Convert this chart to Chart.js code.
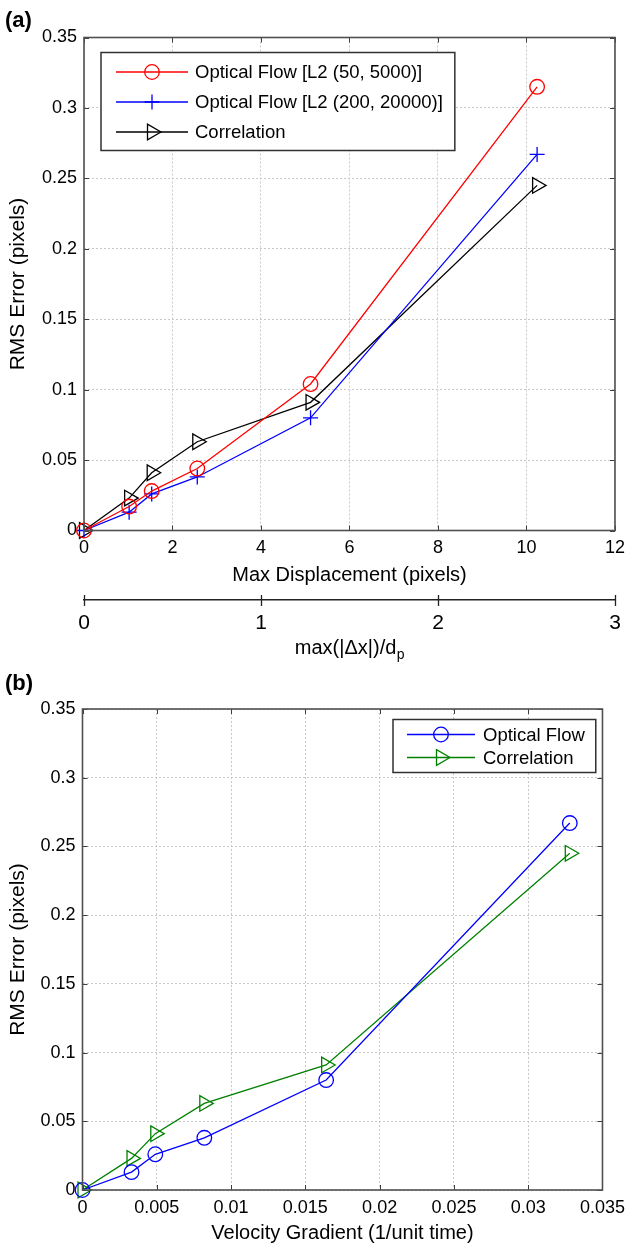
<!DOCTYPE html>
<html>
<head>
<meta charset="utf-8">
<title>RMS error vs displacement and velocity gradient</title>
<script src="https://cdn.jsdelivr.net/npm/chart.js@4.4.1/dist/chart.umd.min.js"></script>
<style>
  html, body { margin: 0; padding: 0; background: #fff; }
  body { width: 632px; height: 1251px; position: relative; overflow: hidden; }
  canvas { position: absolute; left: 0; }
  #chartA { top: 0; }
  #chartB { top: 665px; }
</style>
</head>
<body>
<canvas id="chartA" width="632" height="670"></canvas>
<canvas id="chartB" width="632" height="586"></canvas>
<script>
// ---- data ----
const displacement = [0, 1.02, 1.53, 2.56, 5.12, 10.24];          // max displacement (pixels)
const velocityGradient = [0, 0.0033, 0.0049, 0.0082, 0.0164, 0.0328]; // 1/unit time
const rmsFlowSmall = [0, 0.017, 0.028, 0.044, 0.104, 0.315];   // Optical Flow L2 (50, 5000)
const rmsFlowLarge = [0, 0.013, 0.026, 0.038, 0.080, 0.267];   // Optical Flow L2 (200, 20000)
const rmsCorrelation = [0, 0.023, 0.041, 0.063, 0.091, 0.245];

const rmsTicks = [0, 0.05, 0.1, 0.15, 0.2, 0.25, 0.3, 0.35];
const displacementTicks = [0, 2, 4, 6, 8, 10, 12];
const particleTicks = [0, 1, 2, 3];          // max(|dx|)/dp
const gradientTicks = [0, 0.005, 0.01, 0.015, 0.02, 0.025, 0.03, 0.035];

const FONT = '"Liberation Sans", Arial, Helvetica, sans-serif';
Chart.defaults.font.family = FONT;
Chart.defaults.color = '#000';

const fmt = v => String(+Number(v).toFixed(4));
const pts = (xs, ys) => xs.map((x, i) => ({ x: x, y: ys[i] }));

function series(label, color, style, xs, ys, radius, rotation) {
    return {
        label: label,
        data: pts(xs, ys),
        borderColor: color,
        borderWidth: 1.3,
        pointStyle: style,
        pointRadius: radius,
        pointHoverRadius: radius,
        pointRotation: rotation || 0,
        pointBorderColor: color,
        pointBackgroundColor: 'rgba(0,0,0,0)',
        pointBorderWidth: 1.3,
        tension: 0,
        clip: false
    };
}

// matlab-like box: frame + inward ticks on all four sides
const boxAxes = {
    id: 'boxAxes',
    afterDatasetsDraw(chart) {
        const { ctx, chartArea: a, scales } = chart;
        ctx.save();
        ctx.strokeStyle = '#3c3c3c';
        ctx.lineWidth = 1;
        ctx.beginPath();
        scales.x.ticks.forEach(t => {
            const px = Math.round(scales.x.getPixelForValue(t.value)) + 0.5;
            ctx.moveTo(px, a.bottom); ctx.lineTo(px, a.bottom - 5);
            ctx.moveTo(px, a.top); ctx.lineTo(px, a.top + 5);
        });
        scales.y.ticks.forEach(t => {
            const py = Math.round(scales.y.getPixelForValue(t.value)) + 0.5;
            ctx.moveTo(a.left, py); ctx.lineTo(a.left + 5, py);
            ctx.moveTo(a.right, py); ctx.lineTo(a.right - 5, py);
        });
        ctx.stroke();
        ctx.lineWidth = 1.6;
        ctx.strokeStyle = '#505050';
        ctx.strokeRect(a.left, a.top, a.right - a.left, a.bottom - a.top);
        ctx.restore();
    }
};

// legend box with line + marker samples
const boxLegend = {
    id: 'boxLegend',
    afterDraw(chart, args, o) {
        const ctx = chart.ctx;
        const sets = chart.data.datasets;
        ctx.save();
        ctx.font = o.fontSize + 'px ' + FONT;
        let maxW = 0;
        sets.forEach(ds => { maxW = Math.max(maxW, ctx.measureText(ds.label).width); });
        const w = o.textX + maxW + o.padRight;
        ctx.fillStyle = '#fff';
        ctx.fillRect(o.left, o.top, w, o.height);
        ctx.strokeStyle = '#303030';
        ctx.lineWidth = 1.5;
        ctx.strokeRect(o.left, o.top, w, o.height);
        sets.forEach((ds, i) => {
            const y = o.top + o.firstRow + i * o.rowGap;
            ctx.strokeStyle = ds.borderColor;
            ctx.lineWidth = ds.borderWidth;
            ctx.beginPath();
            ctx.moveTo(o.left + o.lineStart, y);
            ctx.lineTo(o.left + o.lineEnd, y);
            ctx.stroke();
            ctx.fillStyle = 'rgba(0,0,0,0)';
            Chart.helpers.drawPoint(ctx, {
                pointStyle: ds.pointStyle,
                rotation: ds.pointRotation,
                radius: ds.pointRadius,
                borderWidth: ds.pointBorderWidth
            }, o.left + (o.lineStart + o.lineEnd) / 2, y);
            ctx.fillStyle = '#000';
            ctx.textBaseline = 'middle';
            ctx.textAlign = 'left';
            ctx.fillText(ds.label, o.left + o.textX, y + 1);
        });
        ctx.restore();
    }
};

// panel letter and the second displacement axis decorations
const panelText = {
    id: 'panelText',
    afterDraw(chart, args, o) {
        const ctx = chart.ctx;
        ctx.save();
        ctx.fillStyle = '#000';
        ctx.font = 'bold 22px ' + FONT;
        ctx.textBaseline = 'middle';
        ctx.textAlign = 'left';
        ctx.fillText(o.letter, 5, o.letterY);

        const xd = chart.scales.xd;
        if (xd) {
            ctx.strokeStyle = '#222';
            ctx.lineWidth = 1.3;
            ctx.beginPath();
            xd.ticks.forEach(t => {
                const px = Math.round(xd.getPixelForValue(t.value)) + 0.5;
                ctx.moveTo(px, xd.top - 5);
                ctx.lineTo(px, xd.top + 6);
            });
            ctx.stroke();
            // max(|Δx|)/d with subscript p
            const main = 'max(|\u0394x|)/d';
            ctx.font = '20px ' + FONT;
            const mw = ctx.measureText(main).width;
            ctx.font = '14px ' + FONT;
            const sw = ctx.measureText('p').width;
            const cx = (xd.left + xd.right) / 2;
            const x0 = cx - (mw + sw) / 2;
            ctx.font = '20px ' + FONT;
            ctx.fillText(main, x0, o.subTitleY);
            ctx.font = '14px ' + FONT;
            ctx.fillText('p', x0 + mw + 0.5, o.subTitleY + 7);
        }
        ctx.restore();
    }
};

const gridOpts = { color: '#c9c9c9', lineWidth: 1, drawTicks: false };
const gridBorder = { display: false, dash: [2, 2] };

function rmsAxis(width) {
    return {
        type: 'linear',
        min: rmsTicks[0],
        max: rmsTicks[rmsTicks.length - 1],
        afterBuildTicks: s => { s.ticks = rmsTicks.map(v => ({ value: v })); },
        ticks: { font: { size: 18 }, padding: 7, callback: fmt },
        grid: gridOpts,
        border: gridBorder,
        title: { display: true, text: 'RMS Error (pixels)', font: { size: 21 }, padding: { top: 6, bottom: 0 } },
        afterFit: s => { s.width = width; }
    };
}

// ---- (a) error vs displacement ----
new Chart(document.getElementById('chartA'), {
    type: 'line',
    data: {
        datasets: [
            series('Optical Flow [L2 (50, 5000)]', '#ff0000', 'circle', displacement, rmsFlowSmall, 7.3),
            series('Optical Flow [L2 (200, 20000)]', '#0000ff', 'cross', displacement, rmsFlowLarge, 7.5),
            series('Correlation', '#000000', 'triangle', displacement, rmsCorrelation, 9, 90)
        ]
    },
    options: {
        responsive: false,
        animation: false,
        devicePixelRatio: 1,
        layout: { padding: { left: 0, right: 12, top: 37.5, bottom: 10 } },
        scales: {
            x: {
                type: 'linear',
                weight: 0,
                min: displacementTicks[0],
                max: displacementTicks[displacementTicks.length - 1],
                afterBuildTicks: s => { s.ticks = displacementTicks.map(v => ({ value: v })); },
                ticks: { font: { size: 18 }, padding: 7, maxRotation: 0, callback: fmt },
                grid: gridOpts,
                border: gridBorder,
                title: { display: true, text: 'Max Displacement (pixels)', font: { size: 20 }, padding: { top: 0, bottom: 13 } },
                afterFit: s => { s.height = 69.5; }
            },
            xd: {
                type: 'linear',
                position: 'bottom',
                weight: 1,
                min: particleTicks[0],
                max: particleTicks[particleTicks.length - 1],
                afterBuildTicks: s => { s.ticks = particleTicks.map(v => ({ value: v })); },
                ticks: { font: { size: 21 }, padding: 11, maxRotation: 0, callback: fmt },
                grid: { display: true, drawOnChartArea: false, drawTicks: false },
                border: { display: true, color: '#222', width: 1.5 },
                afterFit: s => { s.height = 60; }
            },
            y: rmsAxis(84)
        },
        plugins: {
            legend: { display: false },
            tooltip: { enabled: false },
            boxLegend: { left: 101, top: 52.5, height: 98, firstRow: 19.5, rowGap: 30,
                         lineStart: 15, lineEnd: 87, textX: 94, padRight: 12, fontSize: 18.5 },
            panelText: { letter: '(a)', letterY: 21, subTitleY: 648 }
        }
    },
    plugins: [boxAxes, boxLegend, panelText]
});

// ---- (b) error vs velocity gradient ----
new Chart(document.getElementById('chartB'), {
    type: 'line',
    data: {
        datasets: [
            series('Optical Flow', '#0000ff', 'circle', velocityGradient, rmsFlowLarge, 7.3),
            series('Correlation', '#008000', 'triangle', velocityGradient, rmsCorrelation, 9, 90)
        ]
    },
    options: {
        responsive: false,
        animation: false,
        devicePixelRatio: 1,
        layout: { padding: { left: 0, right: 24.5, top: 44, bottom: 0 } },
        scales: {
            x: {
                type: 'linear',
                min: gradientTicks[0],
                max: gradientTicks[gradientTicks.length - 1],
                afterBuildTicks: s => { s.ticks = gradientTicks.map(v => ({ value: v })); },
                ticks: { font: { size: 18 }, padding: 7, maxRotation: 0, callback: fmt },
                grid: gridOpts,
                border: gridBorder,
                title: { display: true, text: 'Velocity Gradient (1/unit time)', font: { size: 20 }, padding: { top: 0, bottom: 6 } },
                afterFit: s => { s.height = 61; }
            },
            y: rmsAxis(82.5)
        },
        plugins: {
            legend: { display: false },
            tooltip: { enabled: false },
            boxLegend: { left: 393, top: 54.5, height: 53, firstRow: 15, rowGap: 23,
                         lineStart: 14, lineEnd: 82, textX: 90, padRight: 11, fontSize: 18.5 },
            panelText: { letter: '(b)', letterY: 19 }
        }
    },
    plugins: [boxAxes, boxLegend, panelText]
});
</script>
</body>
</html>
